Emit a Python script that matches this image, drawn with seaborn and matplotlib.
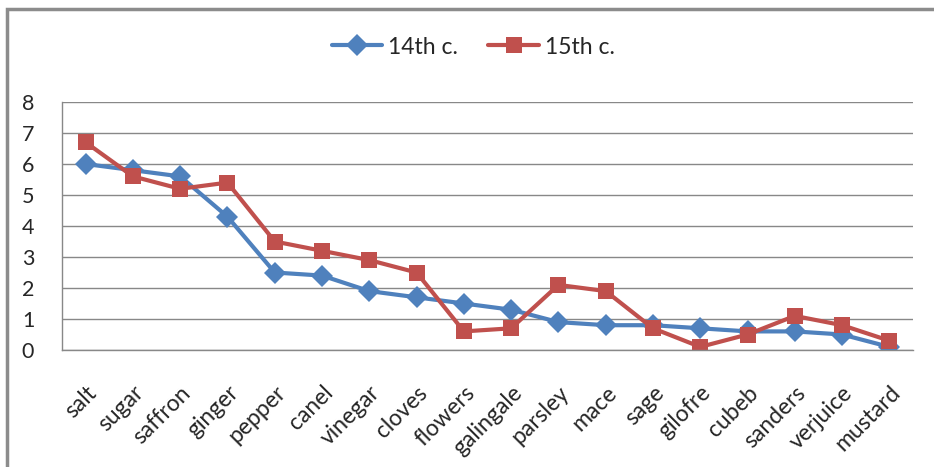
import numpy as np
import pandas as pd
import matplotlib
matplotlib.use("Agg")
import matplotlib.pyplot as plt
import seaborn as sns
from matplotlib.patches import Rectangle

categories = ["salt", "sugar", "saffron", "ginger", "pepper", "canel", "vinegar",
              "cloves", "flowers", "galingale", "parsley", "mace", "sage", "gilofre",
              "cubeb", "sanders", "verjuice", "mustard"]
c14 = [6.0, 5.8, 5.6, 4.3, 2.5, 2.4, 1.9, 1.7, 1.5, 1.3, 0.9, 0.8, 0.8, 0.7, 0.6, 0.6, 0.5, 0.1]
c15 = [6.7, 5.6, 5.2, 5.4, 3.5, 3.2, 2.9, 2.5, 0.6, 0.7, 2.1, 1.9, 0.7, 0.1, 0.5, 1.1, 0.8, 0.3]
series_names = ["14th c.", "15th c."]
yticks = [0, 1, 2, 3, 4, 5, 6, 7, 8]

sns.set_style("white")
plt.rcParams['font.family'] = ['Lato', 'DejaVu Sans']

df = pd.DataFrame({
    "pos": list(range(len(categories))) * 2,
    "value": c14 + c15,
    "series": [series_names[0]] * len(c14) + [series_names[1]] * len(c15),
})

fig = plt.figure(figsize=(9.34, 4.67), dpi=100)
ax = fig.add_axes([62 / 934, 1 - 350 / 467, (913 - 62) / 934, (350 - 102) / 467])

palette = {series_names[0]: "#4F81BD", series_names[1]: "#C0504D"}
markers = {series_names[0]: "D", series_names[1]: "s"}
sns.lineplot(data=df, x="pos", y="value", hue="series", style="series",
             palette=palette, markers=markers, dashes=False, linewidth=3,
             markersize=11, markeredgewidth=0, ax=ax)

ax.set_xlim(-0.5, len(categories) - 0.5)
ax.set_ylim(0, 8)
ax.set_yticks(yticks)
ax.set_yticklabels([str(v) for v in yticks], fontsize=15.5)
ax.set_xticks(range(len(categories)))
ax.set_xticklabels(categories, rotation=45, ha="right", rotation_mode="anchor", fontsize=16.5)
ax.tick_params(axis="x", length=0, pad=23)
ax.tick_params(axis="y", length=0, pad=20)
ax.set_xticks(np.arange(-0.5, len(categories)), minor=True)
ax.tick_params(axis="x", which="minor", length=6, color="#888888", width=1)
ax.set_xlabel("")
ax.set_ylabel("")

ax.grid(axis="y", color="#888888", linewidth=1)
ax.set_axisbelow(True)
for s in ["top", "right"]:
    ax.spines[s].set_visible(False)
ax.spines["left"].set_color("#888888")
ax.spines["bottom"].set_color("#888888")
ax.spines["left"].set_linewidth(1)
ax.spines["bottom"].set_linewidth(1)

handles, labels = ax.get_legend_handles_labels()
ax.legend_.remove()
fig.legend(handles, labels, loc="center", bbox_to_anchor=(0.5 + 6 / 934, 1 - 47 / 467), ncol=2,
           frameon=False, fontsize=16.5, handlelength=2.2, columnspacing=1.35, handletextpad=0.25)

fig.patches.append(Rectangle((7 / 934, -0.1), 1.2, 1 - 9 / 467 + 0.1, transform=fig.transFigure,
                             fill=False, edgecolor="#8c8c8c", linewidth=2.5))

fig.savefig("out.png", dpi=100)
